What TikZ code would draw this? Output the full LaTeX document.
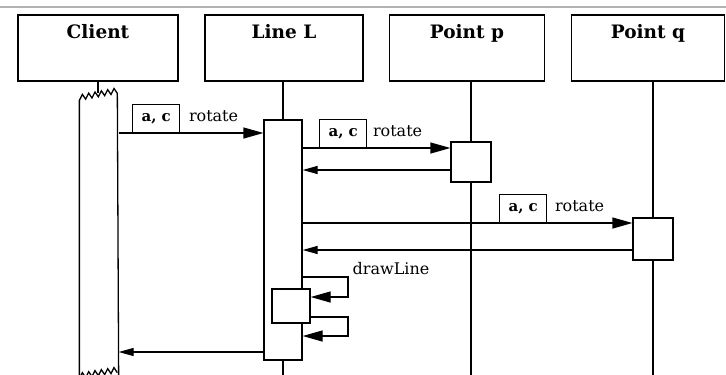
\documentclass[tikz,border=0pt]{standalone}
\usepackage{fontspec}
\setmainfont{DejaVu Serif}
\usetikzlibrary{arrows.meta,positioning}

\begin{document}
\begin{tikzpicture}[x=1pt, y=-1pt, line width=1.3pt,
    call/.style={-{Triangle[length=20pt,width=11pt]}},
    reply/.style={-{Triangle[length=15pt,width=8pt]}},
    objbox/.style={draw, minimum width=156pt, minimum height=66pt, inner sep=0pt},
    objtitle/.style={font=\fontsize{18.5}{21}\selectfont\bfseries, anchor=base},
    actbar/.style={draw, fill=white, minimum width=38pt, inner sep=0pt},
    argbox/.style={draw, minimum width=47pt, minimum height=28pt, inner sep=0pt,
        font=\fontsize{15}{17}\selectfont\bfseries, anchor=south east},
    msgname/.style={font=\fontsize{16}{18}\selectfont, anchor=base west, inner sep=0pt}]

    % --- Frame ---
    \useasboundingbox (0,0) rectangle (726,375);
    \draw[gray!60, line width=1.4pt] (0,7) -- (726,7);
    \coordinate (bottom) at (0,376);

    % --- Objects ---
    \node[objbox, minimum width=160pt] (client) at (98,48) {};
    \node[objbox, minimum width=158pt] (lineL) at (284,48) {};
    \node[objbox, minimum width=155pt] (pointp) at (467,48) {};
    \node[objbox, minimum width=153pt] (pointq) at (648,48) {};
    \node[objtitle] at ([yshift=-24pt]client.north) {Client};
    \node[objtitle] at ([yshift=-24pt]lineL.north) {Line L};
    \node[objtitle] at ([yshift=-24pt]pointp.north) {Point p};
    \node[objtitle] at ([yshift=-24pt]pointq.north) {Point q};

    % --- Activation bars ---
    \node[inner sep=0pt, minimum width=38pt, minimum height=282pt] (cbar) at (99,235) {};
    \node[actbar, minimum height=240pt] (lbar) at (283,240) {};
    \node[actbar, minimum height=34pt] (nested) at (291,306) {};
    \node[actbar, minimum width=40pt, minimum height=40pt] (pbar) at (471,162) {};
    \node[actbar, minimum width=40pt, minimum height=42pt] (qbar) at (653,239) {};

    % Client bar, broken at both ends
    \draw (cbar.south west) -- ([yshift=-7pt]cbar.north west)
        \foreach \i in {1,...,6} {-- ++(3,-6) -- ++(3.33,4.83)} -- (cbar.south east);
    \draw ([yshift=-2pt]cbar.south west)
        \foreach \i in {1,...,6} {-- ++(3,-6) -- ++(3.33,5)};

    % --- Lifelines ---
    \draw (client.south) -- (client.south |- cbar.north);
    \draw (lbar.north |- lineL.south) -- (lbar.north);
    \draw (lbar.south) -- (lbar.south |- bottom);
    \draw (pbar.north |- pointp.south) -- (pbar.north);
    \draw (pbar.south) -- (pbar.south |- bottom);
    \draw (qbar.north |- pointq.south) -- (qbar.north);
    \draw (qbar.south) -- (qbar.south |- bottom);

    % --- Message rows ---
    \coordinate (m1) at (0,133);
    \coordinate (m2) at (0,148);
    \coordinate (m3) at (0,170);
    \coordinate (m4) at (0,223);
    \coordinate (m5) at (0,250);
    \coordinate (s1) at (0,277);
    \coordinate (s2) at (0,297);
    \coordinate (s3) at (0,317);
    \coordinate (s4) at (0,336);
    \coordinate (m6) at (0,352);
    \coordinate (loopx) at (348,0);

    % --- Messages ---
    \draw[call] (cbar.east |- m1) -- (lbar.west |- m1);
    \node[argbox] (arg1) at ([xshift=-83pt]lbar.west |- m1) {a, c};
    \node[msgname] (rot1) at ([xshift=8pt,yshift=-3pt]arg1.east) {rotate};

    \draw[call] (lbar.east |- m2) -- (pbar.west |- m2);
    \node[argbox] (arg2) at ([xshift=-83pt]pbar.west |- m2) {a, c};
    \node[msgname] (rot2) at ([xshift=5pt,yshift=-3pt]arg2.east) {rotate};
    \draw[reply] (pbar.west |- m3) -- (lbar.east |- m3);

    \draw[call] (lbar.east |- m4) -- (qbar.west |- m4);
    \node[argbox] (arg3) at ([xshift=-85pt]qbar.west |- m4) {a, c};
    \node[msgname] (rot3) at ([xshift=7pt,yshift=-3pt]arg3.east) {rotate};
    \draw[reply] (qbar.west |- m5) -- (lbar.east |- m5);

    % Self call
    \draw[call] (lbar.east |- s1) -- (loopx |- s1) -- (loopx |- s2) -- (nested.east |- s2);
    \node[msgname] (draw1) at ([xshift=4pt,yshift=3pt]loopx |- s1) {drawLine};
    \draw[call] (nested.east |- s3) -- (loopx |- s3) -- (loopx |- s4) -- (lbar.east |- s4);

    \draw[reply] (lbar.west |- m6) -- (cbar.east |- m6);

\end{tikzpicture}
\end{document}
